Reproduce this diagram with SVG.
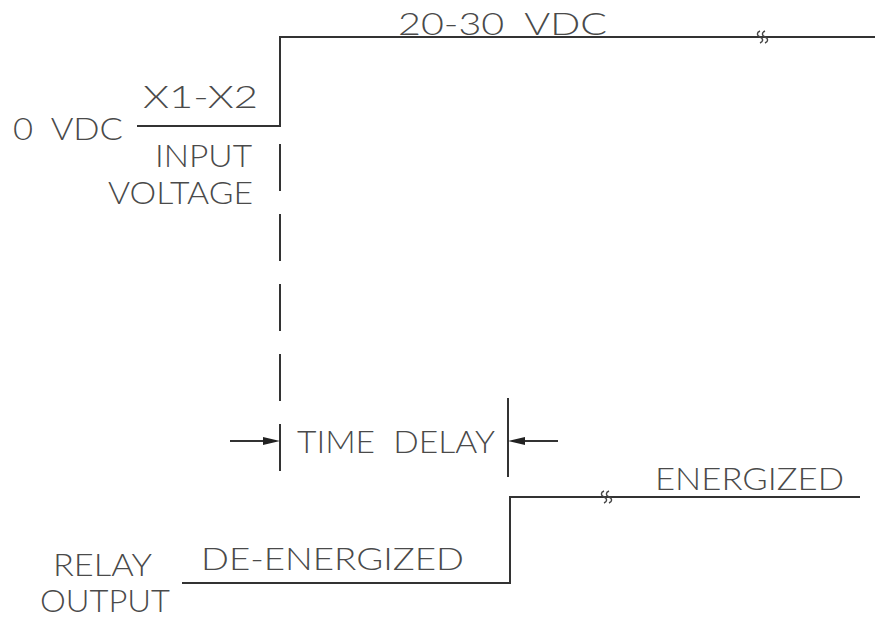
<svg xmlns="http://www.w3.org/2000/svg" width="875" height="619" viewBox="0 0 875 619">
<style>
.t{font-family:Lato,"Liberation Sans",Arial,sans-serif;font-weight:300;font-size:31px;fill:#4a4a4a;white-space:pre}
.w{fill:none;stroke:#333;stroke-width:2}
.b{fill:none;stroke:#444;stroke-width:1.4}
.d{fill:none;stroke:#333;stroke-width:2;stroke-dasharray:47 23}
.a{fill:#222;stroke:none}
</style>
<rect width="875" height="619" fill="#fff"/>
<g id="input-labels">
<text class="t" x="13" y="140" textLength="110" lengthAdjust="spacingAndGlyphs" xml:space="preserve">0  VDC</text>
<text class="t" x="143" y="108" textLength="115" lengthAdjust="spacingAndGlyphs">X1-X2</text>
<text class="t" x="155" y="167" textLength="97" lengthAdjust="spacingAndGlyphs">INPUT</text>
<text class="t" x="108" y="204" textLength="145" lengthAdjust="spacingAndGlyphs">VOLTAGE</text>
<text class="t" x="398" y="35" textLength="209" lengthAdjust="spacingAndGlyphs" xml:space="preserve">20-30  VDC</text>
</g>
<g id="delay-label">
<text class="t" x="297" y="453" textLength="198" lengthAdjust="spacingAndGlyphs" xml:space="preserve">TIME  DELAY</text>
</g>
<g id="relay-labels">
<text class="t" x="53" y="576" textLength="99" lengthAdjust="spacingAndGlyphs">RELAY</text>
<text class="t" x="40" y="612" textLength="130" lengthAdjust="spacingAndGlyphs">OUTPUT</text>
<text class="t" x="201" y="570" textLength="263" lengthAdjust="spacingAndGlyphs">DE-ENERGIZED</text>
<text class="t" x="655" y="490" textLength="189" lengthAdjust="spacingAndGlyphs">ENERGIZED</text>
</g>
<g id="connectors">
<path id="input-wave" class="w" d="M137 126H280V37H875"/>
<path class="d" d="M280 144V410"/>
<path class="w" d="M280 424V471"/>
<path class="w" d="M508 398V477"/>
<path class="w" d="M230 441H268"/>
<path class="a" d="M280 441L263 437L263 445Z"/>
<path class="w" d="M520 441H558"/>
<path class="a" d="M508 441L525 437L525 445Z"/>
<path id="relay-wave" class="w" d="M182 583H510V497H860"/>
<path class="b" d="M760 31c-3.5 1.5-3.5 4.5 0 6s3.5 4.5 0 6M765 31c-3.5 1.5-3.5 4.5 0 6s3.5 4.5 0 6"/>
<path class="b" d="M604 491c-3.5 1.5-3.5 4.5 0 6s3.5 4.5 0 6M609 491c-3.5 1.5-3.5 4.5 0 6s3.5 4.5 0 6"/>
</g>
</svg>
